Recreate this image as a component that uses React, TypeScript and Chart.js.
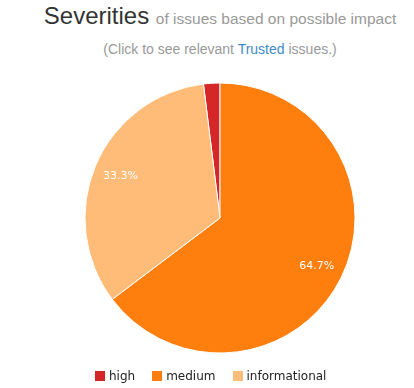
import React, { useEffect, useRef } from "react";
import { Chart, registerables } from "chart.js";

Chart.register(...registerables);

const categories = ["high", "medium", "informational"];
const issueCounts = [1, 33, 17];
const sliceColors = ["#d62728", "#ff7f0e", "#ffbb78"];

const labelPlugin = {
  id: "sliceLabels",
  afterDatasetsDraw(chart: any) {
    const ctx = chart.ctx;
    const meta = chart.getDatasetMeta(0);
    const data = chart.data.datasets[0].data as number[];
    const total = data.reduce((a, b) => a + b, 0);
    ctx.save();
    ctx.font = "11px 'DejaVu Sans', sans-serif";
    ctx.fillStyle = "#ffffff";
    ctx.textAlign = "center";
    ctx.textBaseline = "middle";
    meta.data.forEach((arc: any, i: number) => {
      const frac = data[i] / total;
      if (frac < 0.05) return;
      const { x, y, startAngle, endAngle, outerRadius } = arc.getProps(
        ["x", "y", "startAngle", "endAngle", "outerRadius"],
        true
      );
      const mid = (startAngle + endAngle) / 2;
      const r = outerRadius * 0.8;
      ctx.fillText((frac * 100).toFixed(1) + "%", x + Math.cos(mid) * r, y + Math.sin(mid) * r);
    });
    ctx.restore();
  },
};

export default function App() {
  const canvasRef = useRef<HTMLCanvasElement>(null);

  useEffect(() => {
    if (!canvasRef.current) return;
    const total = issueCounts.reduce((a, b) => a + b, 0);
    const chart = new Chart(canvasRef.current, {
      type: "pie",
      data: {
        labels: categories,
        datasets: [
          {
            data: issueCounts,
            backgroundColor: sliceColors,
            borderColor: "#ffffff",
            borderWidth: 1,
          },
        ],
      },
      options: {
        responsive: false,
        animation: false,
        rotation: -(issueCounts[0] / total) * 360,
        radius: 135,
        layout: { padding: { left: 26, right: 0, top: 83, bottom: 35 } },
        plugins: {
          legend: { display: false },
          tooltip: { enabled: false },
        },
      },
      plugins: [labelPlugin],
    });
    return () => chart.destroy();
  }, []);

  const sans = "'Liberation Sans', Arial, sans-serif";

  return (
    <div style={{ position: "fixed", inset: 0, overflow: "hidden", background: "#fff" }}>
      <div
        style={{
          position: "absolute",
          top: 4,
          left: 0,
          width: 440,
          textAlign: "center",
          fontFamily: sans,
          fontSize: 24,
          lineHeight: "24px",
          color: "#333",
          whiteSpace: "nowrap",
        }}
      >
        Severities <span style={{ fontSize: 15.5, color: "#999" }}>of issues based on possible impact</span>
      </div>
      <div
        style={{
          position: "absolute",
          top: 42,
          left: 0,
          width: 440,
          textAlign: "center",
          fontFamily: sans,
          fontSize: 14,
          lineHeight: "14px",
          color: "#999",
          whiteSpace: "nowrap",
        }}
      >
        (Click to see relevant <span style={{ color: "#428bca" }}>Trusted</span> issues.)
      </div>
      <canvas
        ref={canvasRef}
        width={414}
        height={388}
        style={{ position: "absolute", top: 0, left: 0, width: 414, height: 388 }}
      />
      <div
        style={{
          position: "absolute",
          top: 369,
          left: 95,
          display: "flex",
          alignItems: "center",
          height: 14,
          fontFamily: "'DejaVu Sans', sans-serif",
          fontSize: 12,
          lineHeight: "14px",
          color: "#222",
          whiteSpace: "nowrap",
        }}
      >
        {categories.map((c, i) => (
          <div key={c} style={{ display: "flex", alignItems: "center", marginRight: 17 }}>
            <span
              style={{ display: "inline-block", width: 10, height: 10, background: sliceColors[i], marginRight: 4 }}
            />
            <span>{c}</span>
          </div>
        ))}
      </div>
    </div>
  );
}
